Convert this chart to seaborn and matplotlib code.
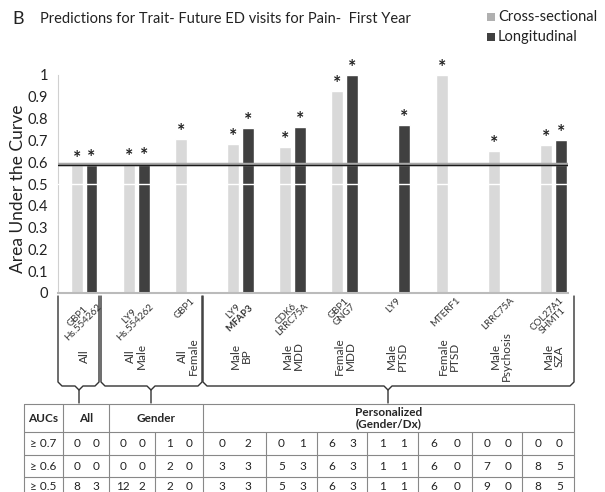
import matplotlib
matplotlib.use("Agg")
import matplotlib.pyplot as plt
import matplotlib.transforms as mtransforms
from matplotlib.patches import Rectangle
import numpy as np
import pandas as pd
import seaborn as sns

# Dados do gráfico (AUC por grupo)
genes = ["GBP1\nHs.554262", "LY9\nHs.554262", "GBP1", "LY9\n$\\bf{MFAP3}$",
         "CDK6\nLRRC75A", "GBP1\nGNG7", "LY9", "MTERF1", "LRRC75A", "COL27A1\nSHMT1"]
grupos = ["All", "All\nMale", "All\nFemale", "Male\nBP", "Male\nMDD", "Female\nMDD",
          "Male\nPTSD", "Female\nPTSD", "Male\nPsychosis", "Male\nSZA"]
auc_cross = [0.585, 0.59, 0.707, 0.683, 0.671, 0.928, np.nan, 1.0, 0.652, 0.68]
auc_long = [0.587, 0.597, np.nan, 0.755, 0.76, 1.0, 0.77, np.nan, np.nan, 0.703]
series = ["Cross-sectional", "Longitudinal"]

# Tabela de contagens
linhas = ["\u2265 0.7", "\u2265 0.6", "\u2265 0.5"]
cont_cross = [[0, 0, 1, 0, 0, 6, 1, 6, 0, 0],
              [0, 0, 2, 3, 5, 6, 1, 6, 7, 8],
              [8, 12, 2, 3, 5, 6, 1, 6, 9, 8]]
cont_long = [[0, 0, 0, 2, 1, 3, 1, 0, 0, 0],
             [0, 0, 0, 3, 3, 3, 1, 0, 0, 5],
             [3, 2, 0, 3, 3, 3, 1, 0, 0, 5]]

df = pd.DataFrame({
    "Gene": genes * 2,
    "Tipo": [series[0]] * len(genes) + [series[1]] * len(genes),
    "AUC": auc_cross + auc_long,
}).dropna()

sns.set_style("white")
plt.rcParams['font.family'] = ['Lato', 'DejaVu Sans']
plt.rcParams['mathtext.fontset'] = 'custom'
plt.rcParams['mathtext.rm'] = 'Lato'
plt.rcParams['mathtext.bf'] = 'Lato:bold'

fig = plt.figure(figsize=(6.05, 4.92), dpi=100)
ax = fig.add_axes([58 / 605, (492 - 293) / 492, 510 / 605, 218 / 492])

sns.barplot(data=df, x="Gene", y="AUC", hue="Tipo", order=genes, hue_order=series,
            palette={series[0]: "#d9d9d9", series[1]: "#404040"}, saturation=1,
            width=0.57, gap=0.2, errorbar=None, legend=False, ax=ax)

# asteriscos sobre as barras
for p in ax.patches:
    h = p.get_height()
    if np.isnan(h):
        continue
    ax.text(p.get_x() + p.get_width() / 2, h - 0.005, "*", ha='center', va='bottom',
            fontsize=14, fontweight='bold', color='#222222')

ax.axhline(0.5, color='white', lw=1, zorder=3)
ax.axhline(0.594, color='#a8a8a8', lw=2.5, zorder=3)
ax.axhline(0.588, color='#1a1a1a', lw=1, zorder=4)

ax.set_xlim(-0.5, 9.28)
ax.set_ylim(0, 1)
ax.set_yticks(np.arange(0, 1.01, 0.1))
ax.set_yticklabels(["0"] + ["%.1f" % v for v in np.arange(0.1, 0.95, 0.1)] + ["1"])
ax.tick_params(axis='y', length=0, pad=7, labelsize=10.5, labelcolor='#222222')
ax.set_xticks(range(len(genes)))
ax.set_xticklabels([""] * len(genes))
ax.tick_params(axis='x', length=0)
ax.set_xlabel("")
ax.set_ylabel("Area Under the Curve", fontsize=12.5, color='#222222')
ax.yaxis.set_label_coords(-0.062, 0.48)
for s in ["top", "right"]:
    ax.spines[s].set_visible(False)
ax.spines["left"].set_color("#d0d0d0")
ax.spines["bottom"].set_color("#bbbbbb")
ax.spines["bottom"].set_linewidth(1.5)

# camada de sobreposicao em pixels
ov = fig.add_axes([0, 0, 1, 1])
ov.set_xlim(0, 605)
ov.set_ylim(492, 0)
ov.axis('off')

ov.text(12, 19, "B", fontsize=13, va='center', color='#222222')
ov.text(40, 19, "Predictions for Trait- Future ED visits for Pain-  First Year",
        fontsize=10.5, va='center', color='#222222')

# legenda
for k, (lab, c) in enumerate(zip(series, ["#b0b0b0", "#404040"])):
    yy = 17 + 20 * k
    ov.add_patch(Rectangle((487, yy - 4), 8, 8, facecolor=c, edgecolor='none'))
    ov.text(498, yy, lab, fontsize=10.5, va='center', color='#222222')

# rotulos dos genes (45 graus) e demograficos
trans = mtransforms.blended_transform_factory(ax.transData, ov.transData)
for i, (gn, g) in enumerate(zip(genes, grupos)):
    ov.text(i - 0.07, 296, gn, transform=trans, rotation=45, ha='center', va='top',
            fontsize=7, linespacing=0.9, color='#333333')
    ov.text(i, 356, g, transform=trans, rotation=90, ha='center', va='center',
            fontsize=8.5, linespacing=1.0, color='#333333')

# chaves
def chave(x0, x1, xt, ytop=296, ybot=386, ytip=403, r=4):
    ov.plot([x0, x0, x0 + r, xt - r, xt, xt], [ytop, ybot - r, ybot, ybot, ybot + r, ytip],
            color='#333333', lw=1)
    ov.plot([xt, xt + r, x1 - r, x1, x1], [ybot + r, ybot, ybot, ybot - r, ytop],
            color='#333333', lw=1)

chave(58, 99, 79)
chave(101, 202, 151)
chave(203, 574, 388)

# tabela
ys = [404, 432, 455, 477, 497]
xs = [24, 63, 109, 155, 203, 266, 317, 367, 418, 472, 522, 574]
cor = '#888888'
for y in ys:
    ov.plot([xs[0], xs[-1]], [y, y], color=cor, lw=0.8)
for x in xs:
    y0 = ys[0] if x in (24, 63, 109, 203, 574) else ys[1]
    ov.plot([x, x], [y0, ys[-1]], color=cor, lw=0.8)

yh = (ys[0] + ys[1]) / 2
ov.text((xs[0] + xs[1]) / 2, yh, "AUCs", ha='center', va='center', fontsize=8.5, fontweight='bold')
ov.text((xs[1] + xs[2]) / 2, yh, "All", ha='center', va='center', fontsize=8.5, fontweight='bold')
ov.text((xs[2] + xs[4]) / 2, yh, "Gender", ha='center', va='center', fontsize=8.5, fontweight='bold')
ov.text((xs[4] + xs[-1]) / 2, yh, "Personalized\n(Gender/Dx)", ha='center', va='center',
        fontsize=8.5, fontweight='bold', linespacing=1.05)

for r, lab in enumerate(linhas):
    yc = (ys[r + 1] + ys[r + 2]) / 2
    ov.text((xs[0] + xs[1]) / 2, yc, lab, ha='center', va='center', fontsize=8.5, color='#222222')
    for j in range(len(genes)):
        xl, xr = xs[j + 1], xs[j + 2]
        w = xr - xl
        ov.text(xl + 0.3 * w, yc, str(cont_cross[r][j]), ha='center', va='center', fontsize=8.5, color='#222222')
        ov.text(xl + 0.72 * w, yc, str(cont_long[r][j]), ha='center', va='center', fontsize=8.5, color='#222222')

fig.savefig("out.png", dpi=100)
